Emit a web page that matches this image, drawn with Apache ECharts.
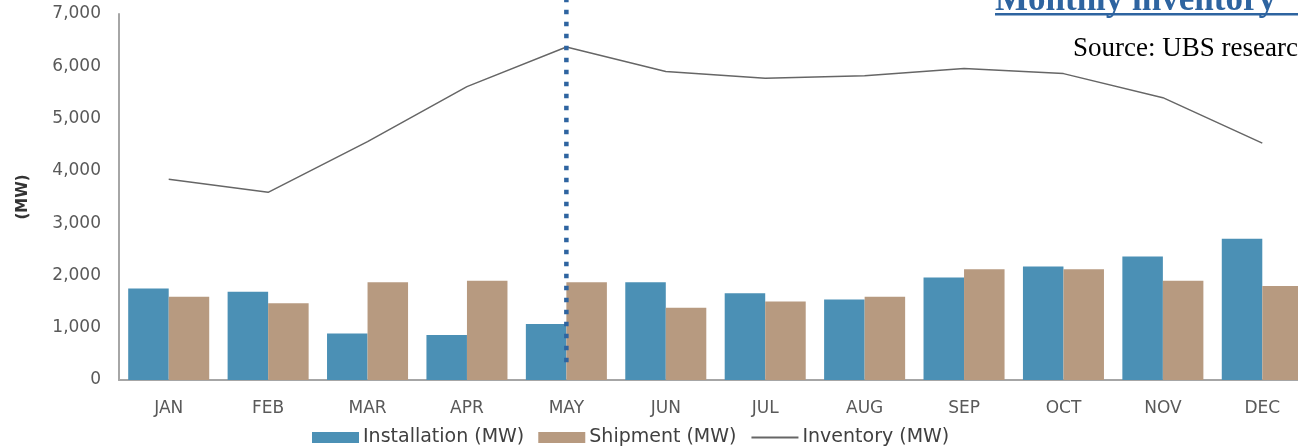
<!DOCTYPE html>
<html>
<head>
<meta charset="utf-8">
<script src="https://cdn.jsdelivr.net/npm/echarts@6/dist/echarts.min.js"></script>
<style>
html,body{margin:0;padding:0;background:#fff;}
#chart{width:1298px;height:448px;}
</style>
</head>
<body>
<div id="chart"></div>
<script>
const categories = ['JAN','FEB','MAR','APR','MAY','JUN','JUL','AUG','SEP','OCT','NOV','DEC'];
const installation = [1750, 1690, 890, 860, 1070, 1870, 1660, 1540, 1960, 2170, 2360, 2700];
const shipment = [1590, 1470, 1870, 1900, 1870, 1380, 1500, 1590, 2120, 2120, 1900, 1800];
const inventory = [3840, 3590, 4560, 5610, 6370, 5900, 5770, 5820, 5960, 5860, 5400, 4530];
const yTicks = [0, 1000, 2000, 3000, 4000, 5000, 6000, 7000];
const dividerMonth = 'MAY';
const dividerRange = [340, 7270];
const titleText = 'Monthly inventory';
const sourceText = 'Source: UBS research';

const chart = echarts.init(document.getElementById('chart'), null, {renderer: 'canvas'});
const sans = 'DejaVu Sans';
const option = {
  animation: false,
  backgroundColor: '#ffffff',
  title: [
    {text: titleText, left: 995, top: -17, padding: 0,
     textStyle: {fontFamily: 'Liberation Serif', fontWeight: 'bold', fontSize: 35, color: '#2e64a0'}},
    {text: sourceText, left: 1073, top: 35, padding: 0,
     textStyle: {fontFamily: 'Liberation Serif', fontWeight: 'normal', fontSize: 27, color: '#000000'}}
  ],
  graphic: [
    {type: 'rect', left: 995, top: 13, shape: {width: 320, height: 2.5}, style: {fill: '#2e64a0'}}
  ],
  grid: {left: 119, width: 1193, top: 14, bottom: 68, containLabel: false, outerBoundsMode: 'none'},
  legend: {
    data: [
      {name: 'Installation (MW)', icon: 'rect'},
      {name: 'Shipment (MW)', icon: 'rect'},
      {name: 'Inventory (MW)', itemStyle: {opacity: 0}}
    ],
    left: 312, top: 428, itemWidth: 47, itemHeight: 11, itemGap: 14, padding: 0,
    textStyle: {fontFamily: sans, fontSize: 19, color: '#404040', padding: [0,0,0,-1]}
  },
  xAxis: {
    type: 'category', data: categories,
    axisLine: {lineStyle: {color: '#a6a6a6', width: 2}},
    axisTick: {show: false},
    axisLabel: {fontFamily: sans, fontSize: 17, color: '#595959', margin: 20}
  },
  yAxis: [{
    type: 'value', min: yTicks[0], max: yTicks[yTicks.length-1], interval: 1000,
    name: '(MW)', nameLocation: 'middle', nameRotate: 90, nameGap: 88,
    nameTextStyle: {fontFamily: sans, fontWeight: 'bold', fontSize: 15, color: '#333333'},
    axisLine: {show: true, lineStyle: {color: '#a6a6a6', width: 2}},
    axisTick: {show: false},
    splitLine: {show: false},
    axisLabel: {fontFamily: sans, fontSize: 17, color: '#595959', margin: 18,
      formatter: v => v.toLocaleString('en-US')}
  }],
  series: [
    {name: 'Installation (MW)', type: 'bar', data: installation, barGap: '0%', barCategoryGap: '18.5%',
     itemStyle: {color: '#4b90b5'}},
    {name: 'Shipment (MW)', type: 'bar', data: shipment, barGap: '0%', barCategoryGap: '18.5%',
     itemStyle: {color: '#b79a80'}},
    {name: 'Inventory (MW)', type: 'line', data: inventory, symbol: 'none', showSymbol: false,
     lineStyle: {color: '#666666', width: 1.5}, itemStyle: {color: '#666666'}, z: 3},
    {name: 'divider', type: 'line', data: dividerRange.map(v => [dividerMonth, v]), symbol: 'none',
     clip: false, silent: true, z: 4,
     lineStyle: {color: '#2e64a0', width: 4.5, type: [4.5, 7.5], cap: 'butt'}}
  ]
};
chart.setOption(option);
</script>
</body>
</html>
